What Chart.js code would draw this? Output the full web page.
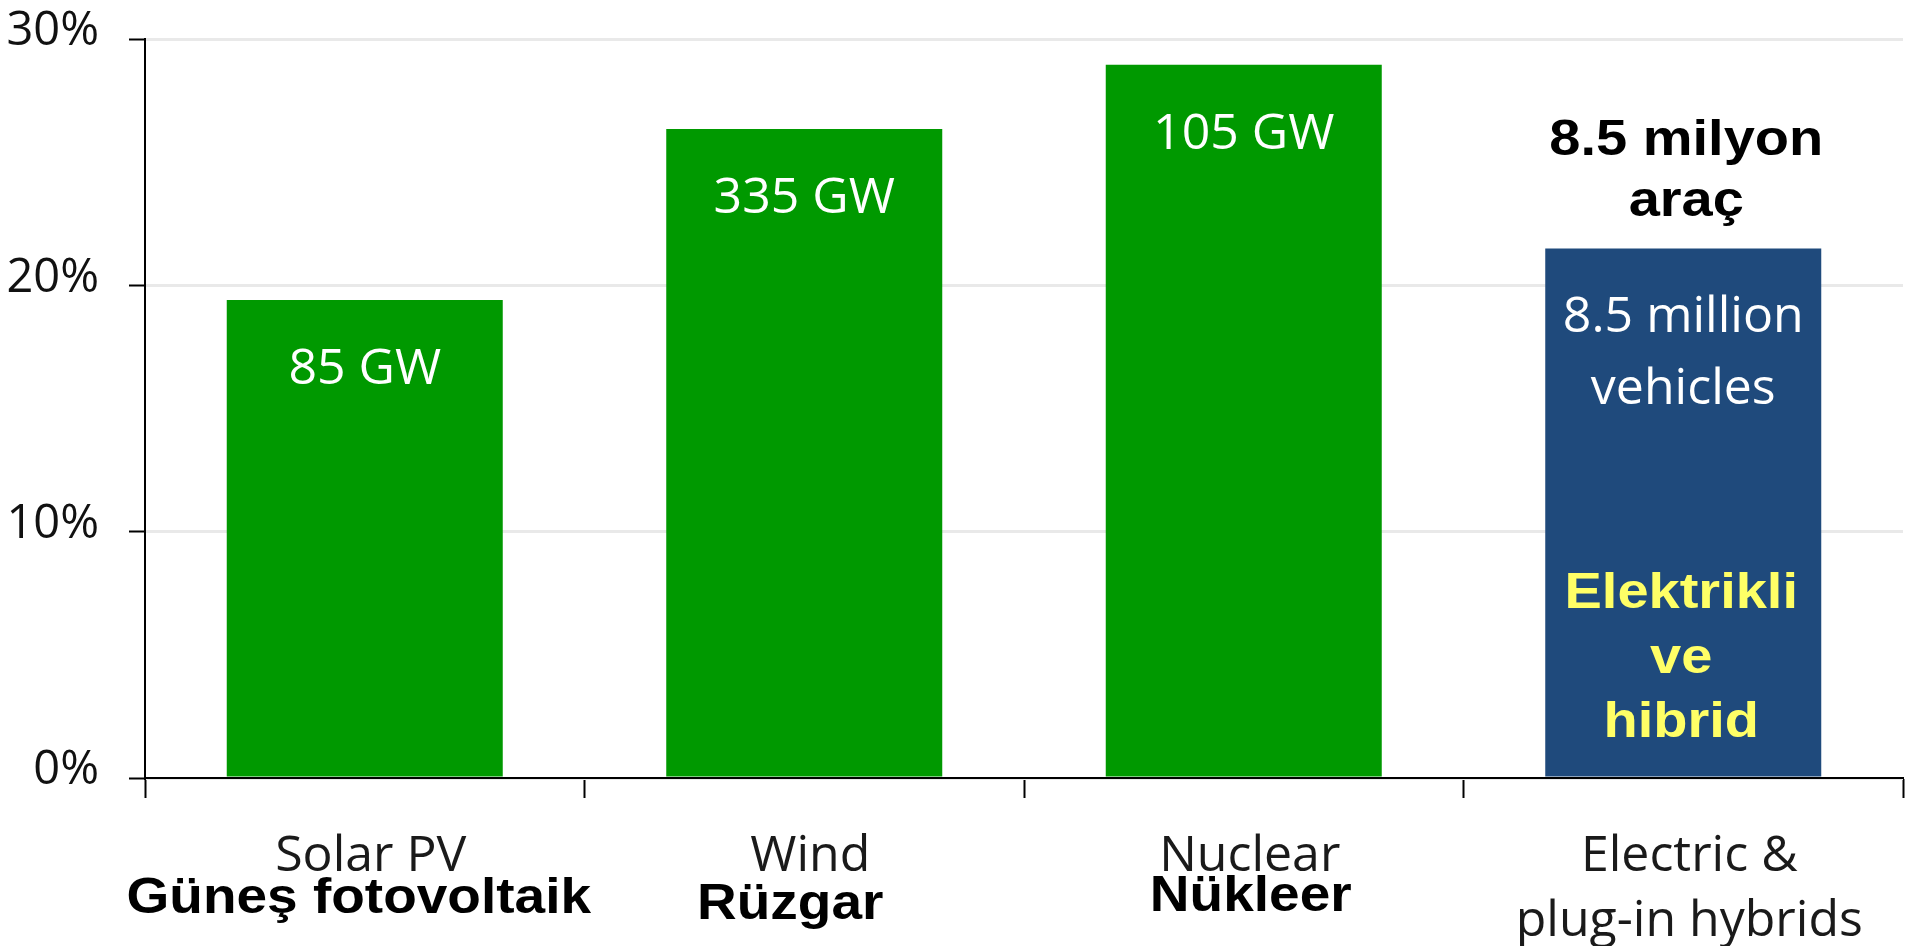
<!DOCTYPE html>
<html>
<head>
<meta charset="utf-8">
<script src="https://cdn.jsdelivr.net/npm/chart.js@4.4.0/dist/chart.umd.min.js"></script>
<style>
  html, body { margin: 0; padding: 0; background: #ffffff; }
  #wrap { width: 1912px; height: 946px; position: relative; }
</style>
</head>
<body>
<div id="wrap"><canvas id="c" width="1912" height="946"></canvas></div>
<script>
// ---- data ----
const categories = ['Solar PV', 'Wind', 'Nuclear', ['Electric &', 'plug-in hybrids']];
const shareValues = [19.4, 26.35, 28.95, 21.5];
const barColors = ['#009900', '#009900', '#009900', '#1f4a7c'];
const barLabels = [['85 GW'], ['335 GW'], ['105 GW'], ['8.5 million', 'vehicles']];
const turkishCategoryLabels = ['Güneş fotovoltaik', 'Rüzgar', 'Nükleer', ''];
const vehicleNoteLines = ['8.5 milyon', 'araç'];
const vehicleTypeLines = ['Elektrikli', 've', 'hibrid'];
const yTickValues = [0, 10, 20, 30];

const SANS = '"Open Sans", "Noto Sans", sans-serif';
const BOLD = '"Liberation Sans", Arial, sans-serif';

function stretchedText(ctx, text, x, y, font, color, sx) {
  ctx.save();
  ctx.font = font;
  ctx.fillStyle = color;
  ctx.textAlign = 'center';
  ctx.textBaseline = 'alphabetic';
  ctx.translate(x, y);
  ctx.scale(sx, 1);
  ctx.fillText(text, 0, 0);
  ctx.restore();
}

const overlayPlugin = {
  id: 'overlay',
  afterDatasetsDraw(chart) {
    const ctx = chart.ctx;
    const meta = chart.getDatasetMeta(0);
    const xs = chart.scales.x;
    const ys = chart.scales.y;
    // values inside bars
    meta.data.forEach((bar, i) => {
      const lines = barLabels[i];
      lines.forEach((t, k) => {
        ctx.save();
        ctx.font = '50px ' + SANS;
        ctx.fillStyle = '#ffffff';
        ctx.textAlign = 'center';
        ctx.textBaseline = 'alphabetic';
        ctx.fillText(t, bar.x, bar.y + 84 + k * 72);
        ctx.restore();
      });
    });
    // Turkish category labels
    const dx = [-6, -14, 7, 0];
    const base = [913, 919, 911, 0];
    turkishCategoryLabels.forEach((t, i) => {
      if (!t) return;
      const cx = xs.getPixelForValue(i) + dx[i];
      stretchedText(ctx, t, cx, base[i], 'bold 50px ' + BOLD, '#000000', 1.1);
    });
    // note above electric bar
    const eBar = meta.data[3];
    vehicleNoteLines.forEach((t, k) => {
      stretchedText(ctx, t, eBar.x + 3, eBar.y - 93 + k * 61, 'bold 50px ' + BOLD, '#000000', 1.12);
    });
    // yellow text inside electric bar
    const zero = ys.getPixelForValue(0);
    const upFromZero = [170, 105, 41];
    vehicleTypeLines.forEach((t, k) => {
      stretchedText(ctx, t, eBar.x - 2, zero - upFromZero[k], 'bold 50px ' + BOLD, '#ffff66', 1.12);
    });
  }
};

new Chart(document.getElementById('c'), {
  type: 'bar',
  data: {
    labels: categories,
    datasets: [{
      data: shareValues,
      backgroundColor: barColors,
      borderWidth: 0,
      categoryPercentage: 1.0,
      barPercentage: 0.628
    }]
  },
  options: {
    responsive: false,
    animation: false,
    devicePixelRatio: 1,
    layout: { padding: { top: 39, right: 9, left: 0, bottom: 0 } },
    plugins: {
      legend: { display: false },
      tooltip: { enabled: false }
    },
    scales: {
      x: {
        afterFit(scale) { scale.height = 168; scale.paddingLeft = 0; scale.paddingRight = 0; },
        grid: {
          display: true,
          offset: true,
          drawOnChartArea: false,
          drawTicks: true,
          tickLength: 20,
          tickColor: '#000000',
          tickWidth: 2
        },
        border: { display: true, color: '#000000', width: 2 },
        ticks: {
          color: '#1a1a1a',
          font: { family: SANS, size: 50, lineHeight: 1.3 },
          padding: 26,
          labelOffset: 6,
          maxRotation: 0,
          autoSkip: false
        }
      },
      y: {
        min: 0,
        max: 30,
        afterFit(scale) { scale.width = 145; scale.paddingTop = 0; scale.paddingBottom = 0; },
        afterBuildTicks(scale) { scale.ticks = yTickValues.map(v => ({ value: v })); },
        grid: {
          color: '#e9e9e9',
          lineWidth: 3,
          tickLength: 16,
          tickColor: '#000000',
          tickWidth: 2
        },
        border: { display: true, color: '#000000', width: 2 },
        ticks: {
          color: '#111111',
          font: { family: SANS, size: 47 },
          padding: 30,
          labelOffset: -7,
          callback: (v) => v + '%'
        }
      }
    }
  },
  plugins: [overlayPlugin]
});
</script>
</body>
</html>
